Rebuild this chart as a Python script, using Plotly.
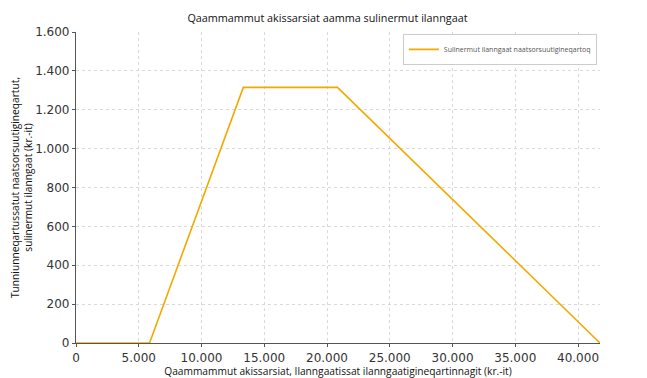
import plotly.graph_objects as go

income = [0, 5860, 13330, 20830, 41750]
benefit = [0, 0, 1315, 1315, 0]
series_name = "Sulinermut ilanngaat naatsorsuutigineqartoq"
x_ticks = [0, 5000, 10000, 15000, 20000, 25000, 30000, 35000, 40000]
y_ticks = [0, 200, 400, 600, 800, 1000, 1200, 1400, 1600]

fig = go.Figure()
fig.add_trace(go.Scatter(x=income, y=benefit, mode="lines", name=series_name,
                         line=dict(color="#F2A900", width=1.6)))

axis_common = dict(showline=True, linecolor="#555555", linewidth=1.2,
                   showgrid=True, gridcolor="#d9d9d9", griddash="dot", gridwidth=1,
                   ticks="outside", ticklen=3, tickcolor="#555555",
                   tickfont=dict(family="DejaVu Sans", size=12, color="#333333"),
                   zeroline=False, tickformat=",d", mirror=False, automargin=True)

fig.update_layout(
    template="none",
    width=639, height=370,
    separators=",.",
    paper_bgcolor="white", plot_bgcolor="white",
    margin=dict(l=68, r=47, t=24, b=35, autoexpand=False),
    title=dict(text="Qaammammut akissarsiat aamma sulinermut ilanngaat",
               x=0.5, xanchor="center", y=0.973, yanchor="middle",
               font=dict(family="Open Sans", size=10.8, color="#111111")),
    xaxis=dict(range=[0, 41750], tickvals=x_ticks,
               title=dict(text="Qaammammut akissarsiat, Ilanngaatissat ilanngaatigineqartinnagit (kr.-it)",
                          font=dict(family="Open Sans", size=10.2, color="#111111"), standoff=0),
               **axis_common),
    yaxis=dict(range=[0, 1600], tickvals=y_ticks,
               title=dict(text="Tunniunneqartussatut naatsorsuutigineqartut,<br>sulinermut ilanngaat (kr.-it)",
                          font=dict(family="Open Sans", size=10.2, color="#111111"), standoff=1),
               **axis_common),
    showlegend=True,
    legend=dict(x=0.994, y=0.994, xanchor="right", yanchor="top",
                bgcolor="white", bordercolor="#cccccc", borderwidth=1,
                font=dict(family="Open Sans", size=7, color="#555555"),
                itemwidth=30),
)

fig.write_html("out.html")
